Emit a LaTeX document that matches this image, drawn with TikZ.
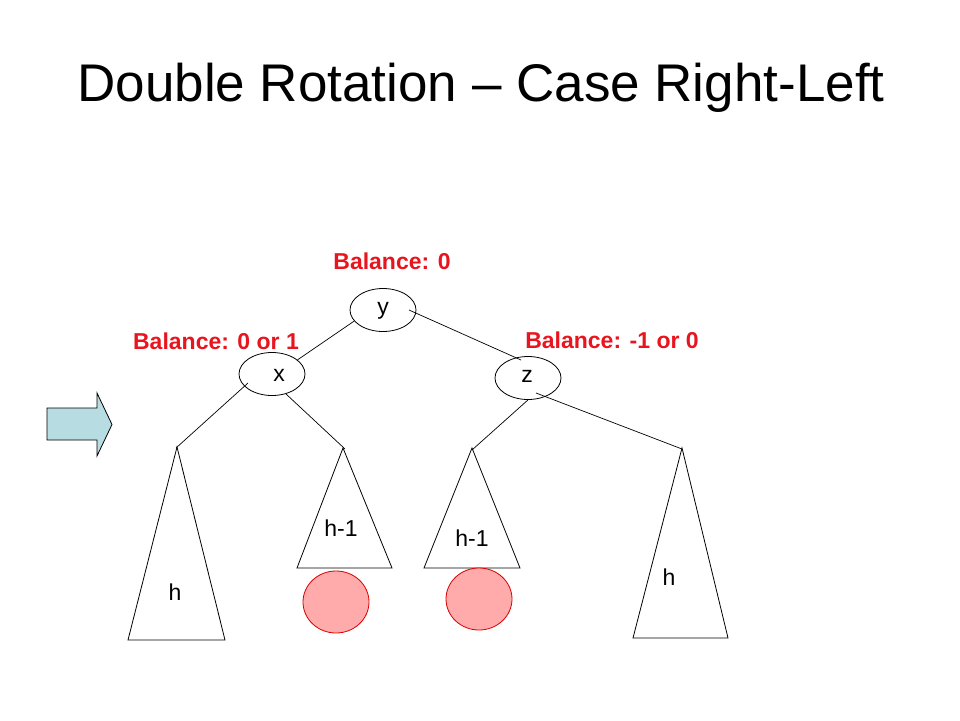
\documentclass[tikz,border=0pt]{standalone}
\usepackage{fontspec}
\setmainfont{Liberation Sans}
\usetikzlibrary{shapes.geometric}
\definecolor{balred}{HTML}{E8141E}
\definecolor{pinkfill}{HTML}{FFABAB}
\definecolor{arrowfill}{HTML}{B7DDE3}
\begin{document}
\begin{tikzpicture}[x=1pt,y=-1pt,
  treenode/.style={draw,ellipse,minimum width=66pt,minimum height=43pt,inner sep=0pt,line width=0.8pt},
  lbl/.style={font=\fontsize{23}{26}\selectfont,inner sep=0pt},
  bal/.style={font=\bfseries\fontsize{23}{26}\selectfont,text=balred,inner sep=0pt},
  edge/.style={line width=0.7pt},
  subtree/.style={draw,line width=0.8pt},
  blob/.style={draw=red!85!black,fill=pinkfill,ellipse,minimum width=66pt,minimum height=62pt,line width=0.8pt,inner sep=0pt}]
\useasboundingbox (0,0) rectangle (960,720);
\node[font=\fontsize{53}{62}\selectfont,inner sep=0pt] (title) at (481,88) {Double Rotation – Case Right-Left};
% nodes
\node[treenode] (y) at (383,310) {};
\node[treenode] (x) at (272,374) {};
\node[treenode] (z) at (528,378) {};
\node[lbl] (ly) at ([yshift=-1pt]y.center) {y};
\node[lbl] (lx) at ([xshift=7pt,yshift=-1pt]x.center) {x};
\node[lbl] (lz) at ([xshift=-1pt,yshift=2pt]z.center) {z};
% balance labels
\node[bal] (b0) at (392,261) {Balance: 0};
\node[bal] (b1) at (216,341) {Balance: 0 or 1};
\node[bal] (b2) at (612,340) {Balance: -1 or 0};
% subtrees
\node[lbl] (h1) at (175,592) {h};
\node[lbl] (h2) at (341,528) {h-1};
\node[lbl] (h3) at (472,538) {h-1};
\node[lbl] (h4) at (669,577) {h};
\draw[subtree] (177,447) coordinate (t1) -- (225,640) -- (128,640) -- cycle;
\draw[subtree] (343,448) coordinate (t2) -- (392,568) -- (297,568) -- cycle;
\draw[subtree] (472,448) coordinate (t3) -- (520,568) -- (424,568) -- cycle;
\draw[subtree] (682,448) coordinate (t4) -- (728,638) -- (633,638) -- cycle;
% edges
\coordinate (yr) at (409,310);
\coordinate (zt) at (521,360);
\coordinate (xl) at (248,383);
\coordinate (zr) at (536,393);
\draw[edge] (y.201) -- (x.29);
\draw[edge] (yr) -- (zt);
\draw[edge] (xl) -- ([xshift=-1pt,yshift=-1pt]t1);
\draw[edge] (x.-55) -- ([xshift=2pt,yshift=-1pt]t2);
\draw[edge] (z.-90) -- ([yshift=-2pt]t3);
\draw[edge] (zr) -- ([yshift=-1pt]t4);
% blobs
\node[blob] (c1) at (336,602) {};
\node[blob] (c2) at (479,599) {};
% arrow
\draw[line width=0.8pt,fill=arrowfill] (47,408) -- (97,408) -- (97,393) -- (112,424.5) -- (97,456) -- (97,440) -- (47,440) -- cycle;
\end{tikzpicture}
\end{document}
